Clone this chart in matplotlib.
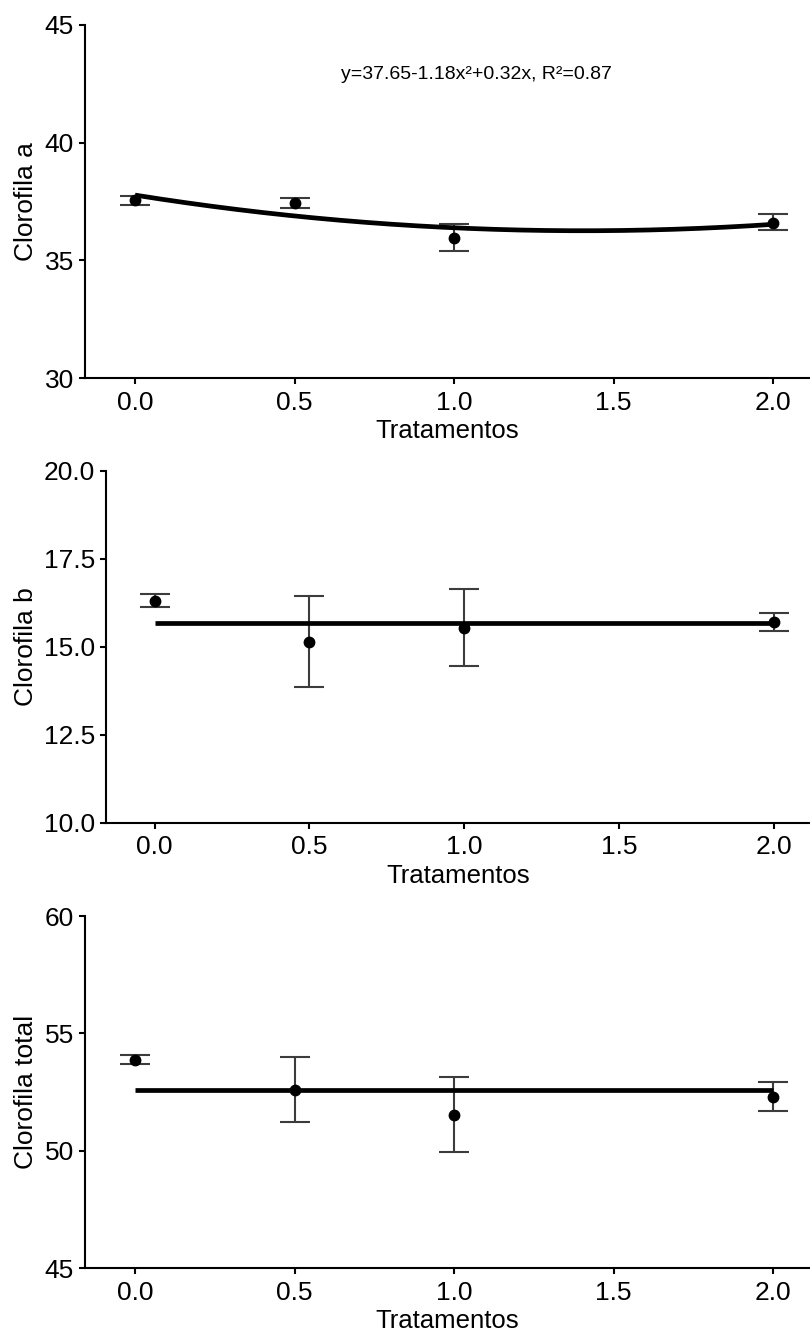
import numpy as np
import matplotlib
matplotlib.use("Agg")
import matplotlib.pyplot as plt
import matplotlib.transforms as mtransforms

# -----------------------------
# Data
# -----------------------------
x_trat = [0.0, 0.5, 1.0, 2.0]

clor_a_mean = [37.56, 37.45, 35.96, 36.60]
clor_a_low = [37.35, 37.24, 35.40, 36.27]
clor_a_high = [37.75, 37.66, 36.54, 36.98]

clor_b_mean = [16.32, 15.15, 15.54, 15.70]
clor_b_low = [16.15, 13.86, 14.46, 15.45]
clor_b_high = [16.50, 16.46, 16.64, 15.97]

clor_t_mean = [53.87, 52.59, 51.50, 52.30]
clor_t_low = [53.68, 51.22, 49.93, 51.70]
clor_t_high = [54.08, 53.98, 53.12, 52.93]

ylabels = ["Clorofila a", "Clorofila b", "Clorofila total"]
yticks_a = [30, 35, 40, 45]
yticks_b = [10.0, 12.5, 15.0, 17.5, 20.0]
yticks_t = [45, 50, 55, 60]
xticks = [0.0, 0.5, 1.0, 1.5, 2.0]
equation_a = "y=37.65-1.18x²+0.32x, R²=0.87"

plt.rcParams['font.family'] = ['Liberation Sans', 'DejaVu Sans']

W, H = 810, 1335
fig = plt.figure(figsize=(W / 100, H / 100), dpi=100)


def make_axes(left_px, top_px, bottom_px):
    # pixel box -> figure fractions (axes run off the right edge like the original)
    return fig.add_axes([left_px / W, 1 - bottom_px / H,
                         (W - left_px) / W, (bottom_px - top_px) / H])


def draw_panel(ax, mean, low, high, yticks, ylabel, fmt, fit):
    x = np.array(x_trat)
    m = np.array(mean)
    yerr = [m - np.array(low), np.array(high) - m]
    ax.errorbar(x, m, yerr=yerr, fmt='none', ecolor='#3c3c3c',
                elinewidth=1.5, capsize=10.8, capthick=1.5, zorder=2)
    if fit == 'quad':
        coef = np.polyfit(x, m, 2)
        xs = np.linspace(x[0], x[-1], 200)
        ax.plot(xs, np.polyval(coef, xs), color='black', lw=3.4, zorder=3,
                solid_capstyle='butt')
    else:
        ax.plot([x[0], x[-1]], [m.mean(), m.mean()], color='black', lw=3.4,
                zorder=3, solid_capstyle='butt')
    ax.plot(x, m, 'o', color='black', ms=7.5, zorder=4)

    ax.set_xlim(-0.157, 2.116)
    ax.set_ylim(yticks[0], yticks[-1])
    ax.set_xticks(xticks)
    ax.set_xticklabels([f"{v:.1f}" for v in xticks])
    ax.set_yticks(yticks)
    ax.set_yticklabels([fmt.format(v) for v in yticks])
    for s in ['top', 'right']:
        ax.spines[s].set_visible(False)
    for s in ['left', 'bottom']:
        ax.spines[s].set_linewidth(1.5)
        ax.spines[s].set_color('black')
    ax.tick_params(axis='both', length=4, width=1.5, labelsize=19,
                   colors='black')
    ax.tick_params(axis='x', pad=5)
    ax.tick_params(axis='y', pad=4)
    ax.set_xlabel("Tratamentos", fontsize=18.5, labelpad=3)
    ax.set_ylabel(ylabel, fontsize=19)
    trans = mtransforms.blended_transform_factory(fig.transFigure, ax.transAxes)
    ax.yaxis.set_label_coords(38 / W, 0.5, transform=trans)


ax1 = make_axes(85, 25, 378)
draw_panel(ax1, clor_a_mean, clor_a_low, clor_a_high, yticks_a, ylabels[0],
           "{:.0f}", 'quad')
ax1.text(1.07, 42.9, equation_a, fontsize=14, ha='center', va='center')

ax2 = make_axes(106, 471, 823)
draw_panel(ax2, clor_b_mean, clor_b_low, clor_b_high, yticks_b, ylabels[1],
           "{:.1f}", 'mean')

ax3 = make_axes(85, 916, 1268)
draw_panel(ax3, clor_t_mean, clor_t_low, clor_t_high, yticks_t, ylabels[2],
           "{:.0f}", 'mean')

fig.savefig("out.png", dpi=100, facecolor='white')
